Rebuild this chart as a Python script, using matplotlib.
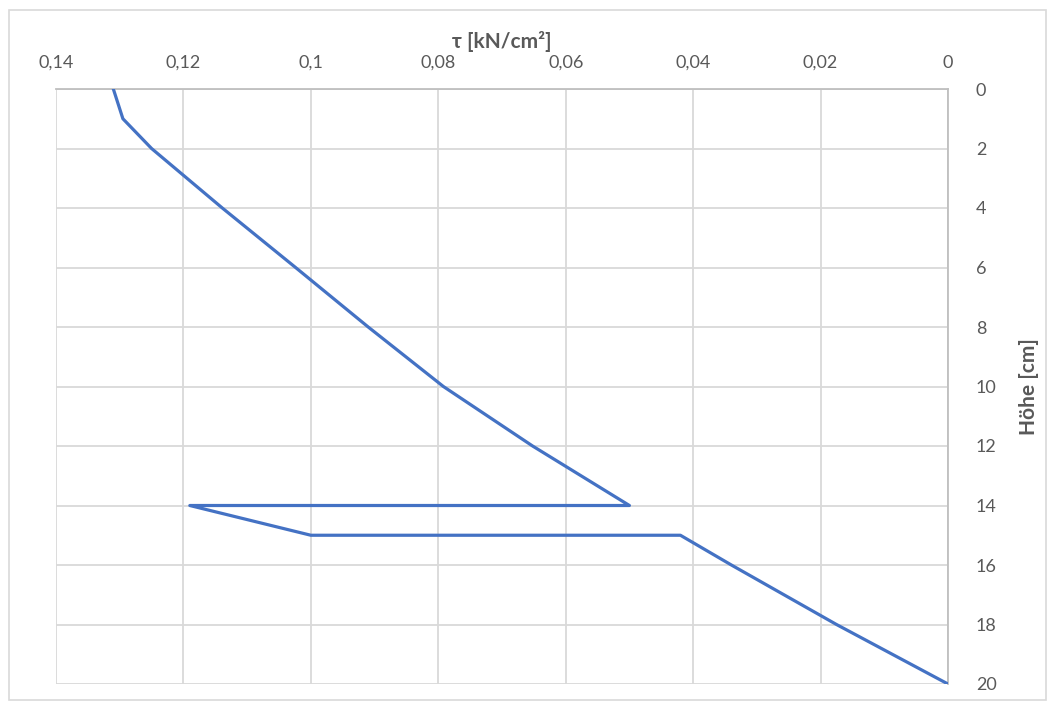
import matplotlib
matplotlib.use("Agg")
import matplotlib.pyplot as plt
from matplotlib.patches import Rectangle
from matplotlib.ticker import FuncFormatter

# Shear stress distribution over the section height
hoehe = [0, 1, 2, 4, 6, 8, 10, 12, 14, 14, 15, 15, 16, 18, 20]
tau = [0.131, 0.1295, 0.125, 0.1139, 0.1024, 0.091, 0.0792, 0.0652, 0.05,
       0.119, 0.1, 0.042, 0.034, 0.0175, 0.0]

tau_ticks = [0.14, 0.12, 0.10, 0.08, 0.06, 0.04, 0.02, 0.0]
hoehe_ticks = [0, 2, 4, 6, 8, 10, 12, 14, 16, 18, 20]

plt.rcParams['font.family'] = ['Lato', 'DejaVu Sans']

W, H = 1051, 703
fig = plt.figure(figsize=(W / 100, H / 100), dpi=100)

# light frame around the whole chart
fig.patches.append(Rectangle((9 / W, 3 / H), (W - 14) / W, (H - 13) / H,
                             transform=fig.transFigure, fill=False,
                             edgecolor="#D9D9D9", linewidth=1.2))

ax = fig.add_axes([56 / W, (H - 684) / H, (948 - 56) / W, (684 - 89) / H])

ax.plot(tau, hoehe, color="#4472C4", linewidth=2.3, solid_joinstyle="round",
        zorder=3)

ax.set_xlim(0.14, 0.0)
ax.set_ylim(20, 0)
ax.set_xticks(tau_ticks)
ax.set_yticks(hoehe_ticks)

fmt = FuncFormatter(lambda v, pos: f"{v:g}".replace(".", ","))
ax.xaxis.set_major_formatter(fmt)
ax.yaxis.set_major_formatter(fmt)

ax.xaxis.tick_top()
ax.xaxis.set_label_position("top")
ax.yaxis.tick_right()
ax.yaxis.set_label_position("right")

ax.tick_params(axis="both", length=0, labelsize=13, colors="#595959")
ax.tick_params(axis="x", pad=13)
ax.tick_params(axis="y", pad=20)

ax.grid(True, color="#D9D9D9", linewidth=1.3, zorder=0)
ax.set_axisbelow(True)

for side in ("left", "bottom"):
    ax.spines[side].set_visible(False)
for side in ("top", "right"):
    ax.spines[side].set_color("#BFBFBF")
    ax.spines[side].set_linewidth(1.3)

ax.set_xlabel("τ [kN/cm²]", fontsize=15, fontweight="bold", color="#595959",
              labelpad=5)
ax.set_ylabel("Höhe [cm]", fontsize=15, fontweight="bold", color="#595959",
              labelpad=16, rotation=90)

fig.savefig("out.png", dpi=100, facecolor="white")
